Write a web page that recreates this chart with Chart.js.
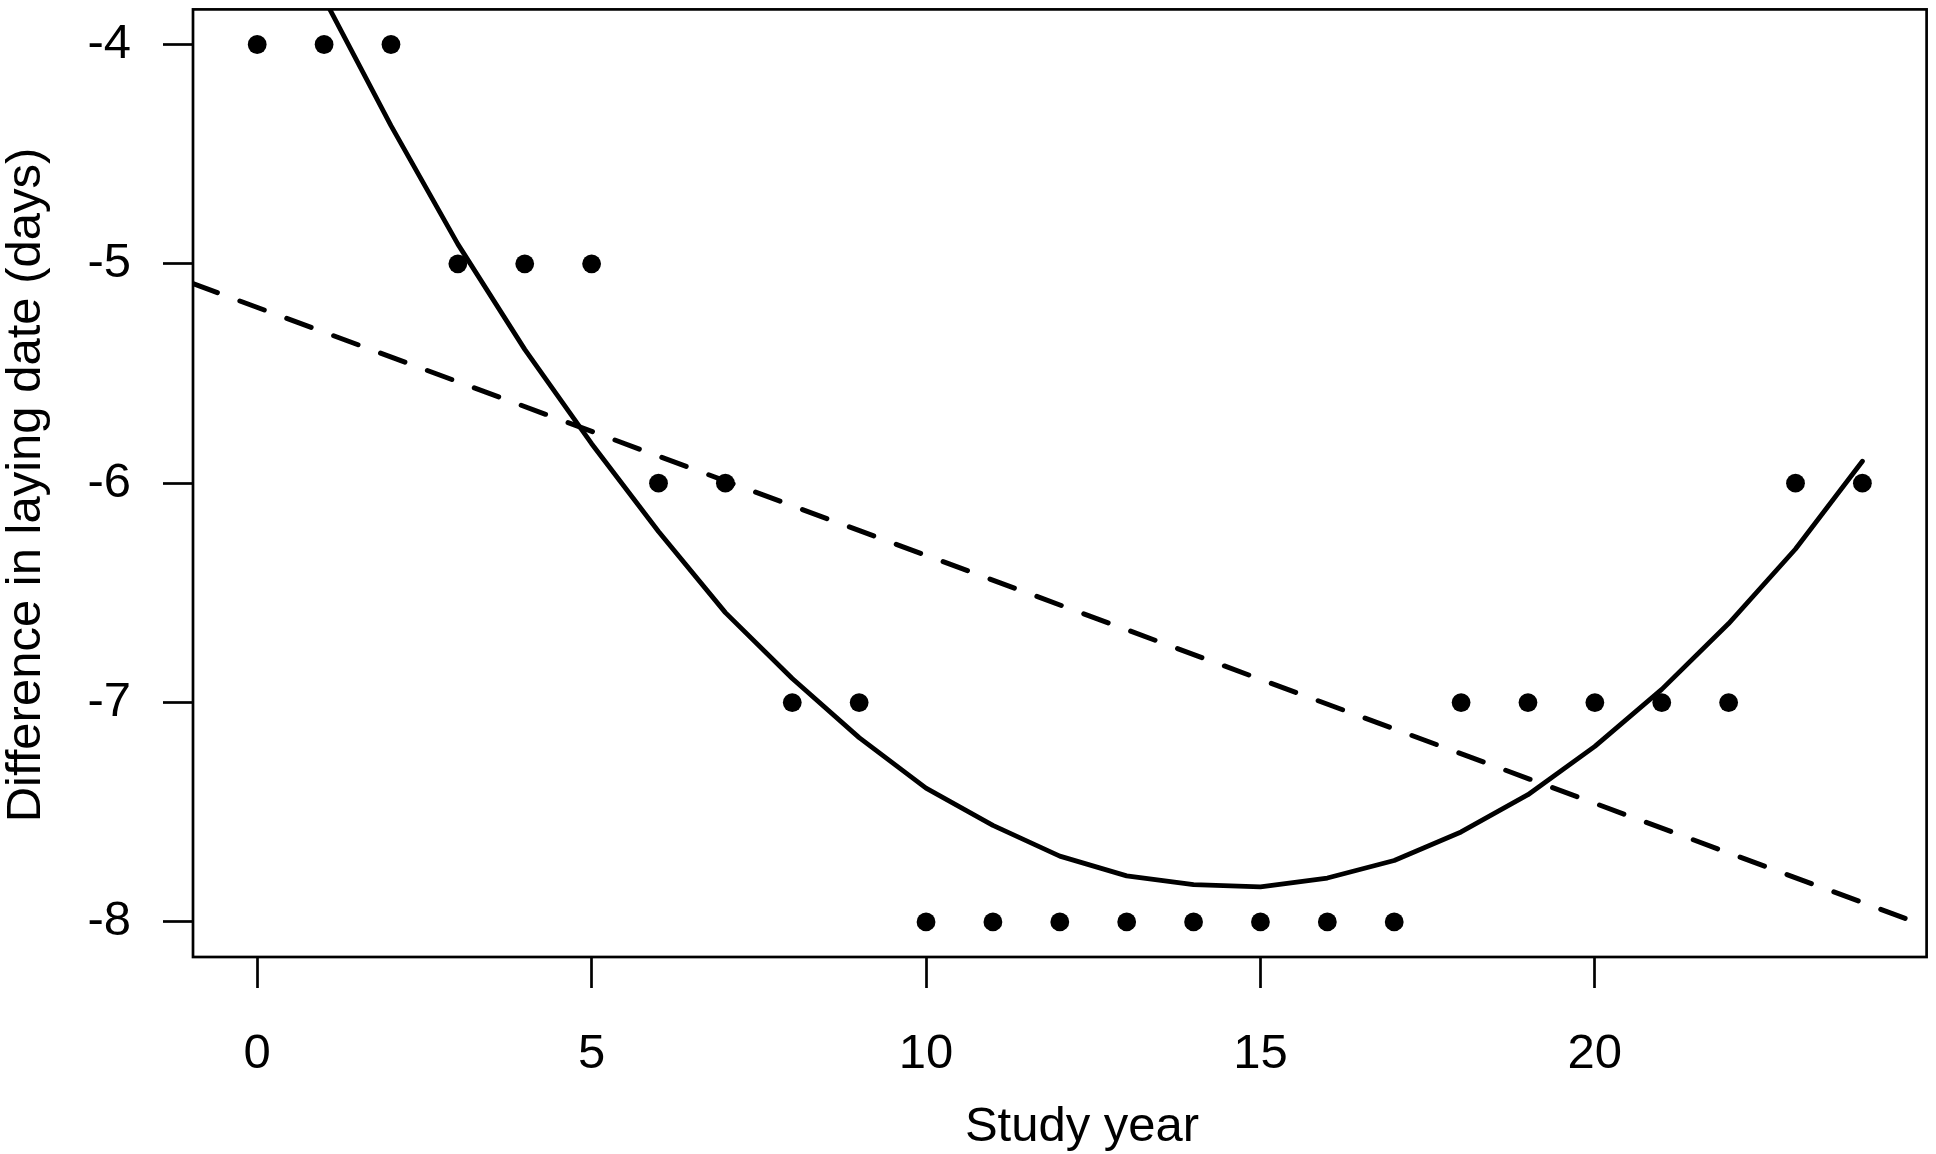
<!DOCTYPE html>
<html><head><meta charset="utf-8">
<script src="https://cdn.jsdelivr.net/npm/chart.js@4/dist/chart.umd.min.js"></script>
<style>html,body{margin:0;padding:0;background:#fff}#wrap{width:1936px;height:1154px;position:relative}</style>
</head><body><div id="wrap"><canvas id="c"></canvas></div>
<script>
// Observed data
const studyYear = [0,1,2,3,4,5,6,7,8,9,10,11,12,13,14,15,16,17,18,19,20,21,22,23,24];
const layingDiff = [-4,-4,-4,-5,-5,-5,-6,-6,-7,-7,-8,-8,-8,-8,-8,-8,-8,-8,-7,-7,-7,-7,-7,-6,-6];
// Quadratic fit (solid)
const curveYear = [0,1,2,3,4,5,6,7,8,9,10,11,12,13,14,15,16,17,18,19,20,21,22,23,24];
const curveValue = [-3.12,-3.79,-4.37,-4.91,-5.39,-5.82,-6.22,-6.59,-6.89,-7.16,-7.39,-7.56,-7.70,-7.79,-7.83,-7.84,-7.80,-7.72,-7.59,-7.42,-7.20,-6.94,-6.64,-6.30,-5.90];
// Linear fit (dashed)
const linearYear = [-0.96, 24.96];
const linearValue = [-5.09, -8.02];
// Axis ticks and titles
const xTicks = [0,5,10,15,20];
const yTicks = [-8,-7,-6,-5,-4];
const xTitle = 'Study year';
const yTitle = 'Difference in laying date (days)';

const FONT = "'Liberation Sans', Arial, Helvetica, sans-serif";

const boxAndTitles = {
  id: 'boxAndTitles',
  beforeDraw(chart) {
    const c = chart.ctx;
    c.save(); c.fillStyle = '#fff'; c.fillRect(0, 0, chart.width, chart.height); c.restore();
  },
  afterDraw(chart) {
    const c = chart.ctx, a = chart.chartArea;
    c.save();
    c.strokeStyle = '#000'; c.lineWidth = 2.7;
    c.strokeRect(a.left, a.top, a.right - a.left, a.bottom - a.top);
    c.fillStyle = '#000';
    c.font = '49px ' + FONT;
    c.textAlign = 'center'; c.textBaseline = 'alphabetic';
    c.fillText(xTitle, 1082, 1141);
    c.translate(40, 485); c.rotate(-Math.PI / 2);
    c.fillText(yTitle, 0, 0);
    c.restore();
  }
};

new Chart(document.getElementById('c'), {
  type: 'scatter',
  data: {
    datasets: [
      {
        label: 'Observed',
        data: studyYear.map((x, i) => ({x: x, y: layingDiff[i]})),
        pointRadius: 9.4, pointHoverRadius: 9.4,
        backgroundColor: '#000', borderWidth: 0, showLine: false, clip: false
      },
      {
        label: 'Quadratic',
        type: 'line',
        data: curveYear.map((x, i) => ({x: x, y: curveValue[i]})),
        borderColor: '#000', borderWidth: 4.8, pointRadius: 0, fill: false, tension: 0,
        borderCapStyle: 'round', borderJoinStyle: 'round', clip: 0
      },
      {
        label: 'Linear',
        type: 'line',
        data: linearYear.map((x, i) => ({x: x, y: linearValue[i]})),
        borderColor: '#000', borderWidth: 5, pointRadius: 0, fill: false,
        borderDash: [26, 24], borderCapStyle: 'round', clip: 0
      }
    ]
  },
  options: {
    responsive: true, maintainAspectRatio: false, animation: false, devicePixelRatio: 1,
    layout: {padding: {left: 0, right: 4, top: 2, bottom: 0}},
    plugins: {legend: {display: false}, tooltip: {enabled: false}},
    scales: {
      x: {
        type: 'linear', position: 'bottom', min: -0.96, max: 24.96,
        afterBuildTicks: s => { s.ticks = xTicks.map(v => ({value: v})); },
        afterFit: s => { s.height = 197; s.paddingLeft = 0; s.paddingRight = 0; },
        grid: {drawOnChartArea: false, drawTicks: true, tickLength: 31, tickWidth: 2.7, tickColor: '#000'},
        border: {display: false},
        title: {display: false, text: xTitle},
        ticks: {color: '#000', font: {family: FONT, size: 49, lineHeight: 1.2}, padding: 37, maxRotation: 0, autoSkip: false}
      },
      y: {
        type: 'linear', position: 'left', min: -8.16, max: -3.84,
        afterBuildTicks: s => { s.ticks = yTicks.map(v => ({value: v})); },
        afterFit: s => { s.width = 193; s.paddingTop = 0; s.paddingBottom = 0; },
        grid: {drawOnChartArea: false, drawTicks: true, tickLength: 30, tickWidth: 2.7, tickColor: '#000'},
        border: {display: false},
        title: {display: false, text: yTitle},
        ticks: {color: '#000', font: {family: FONT, size: 49}, padding: 32, autoSkip: false}
      }
    }
  },
  plugins: [boxAndTitles]
});
</script>
</body></html>
